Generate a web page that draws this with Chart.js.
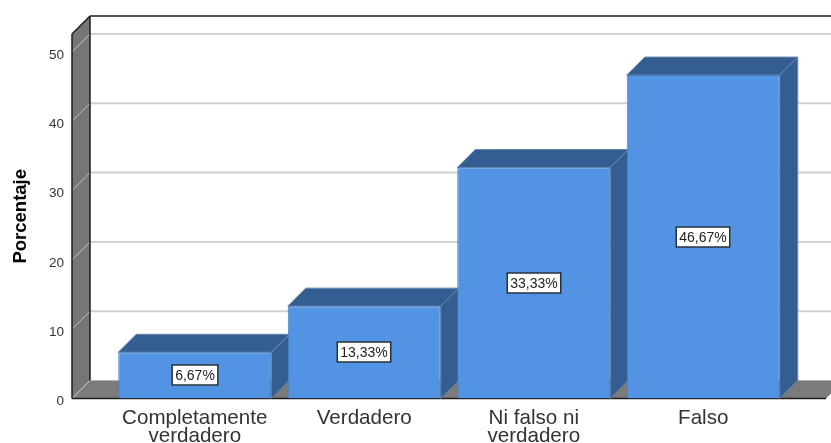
<!DOCTYPE html>
<html><head><meta charset="utf-8">
<script src="https://cdn.jsdelivr.net/npm/chart.js@4"></script>
<style>html,body{margin:0;padding:0;background:#fff;overflow:hidden}canvas{display:block}</style>
</head><body>
<canvas id="c" width="831" height="443"></canvas>
<script>
const categories = [["Completamente","verdadero"],"Verdadero",["Ni falso ni","verdadero"],"Falso"];
const percentages = [6.67, 13.33, 33.33, 46.67];
const axisMax = 52.6;
const axisStep = 10;
const axisTitle = "Porcentaje";

const DEPTH = 18, WALL_LEFT = 38, WALL_RIGHT = 38;
const FONT = '"Liberation Sans", Arial, sans-serif';

function poly(ctx, pts, fill, stroke, lw){
  ctx.beginPath();
  pts.forEach((p,i)=> i?ctx.lineTo(p[0],p[1]):ctx.moveTo(p[0],p[1]));
  ctx.closePath();
  if(fill){ctx.fillStyle=fill;ctx.fill();}
  if(stroke){ctx.strokeStyle=stroke;ctx.lineWidth=lw||1;ctx.stroke();}
}
function line(ctx,x1,y1,x2,y2,c,w){
  ctx.beginPath();ctx.moveTo(x1,y1);ctx.lineTo(x2,y2);ctx.strokeStyle=c;ctx.lineWidth=w;ctx.stroke();
}
const box3d = {
  id:'box3d',
  beforeDatasetsDraw(chart){
    const {ctx,chartArea:a,scales:{y}} = chart;
    const L=a.left-WALL_LEFT, R=a.right+WALL_RIGHT, T=a.top, B=y.getPixelForValue(0), d=DEPTH;
    ctx.save();
    // floor
    poly(ctx,[[L,B],[L+d,B-d],[R+d,B-d],[R,B]],'#7b7b7b');
    line(ctx,L+d,B-d,R+d,B-d,'#b4b4b4',1);
    // back-wall grid lines
    y.ticks.forEach(t=>{
      const py=y.getPixelForValue(t.value);
      if(t.value!==0) line(ctx,L+d,py-d,R+d,py-d,'#d2d2d2',2);
    });
    // left wall
    poly(ctx,[[L,T],[L+d,T-d],[L+d,B-d],[L,B]],'#767676');
    y.ticks.forEach(t=>{
      const py=y.getPixelForValue(t.value);
      line(ctx,L,py,L+d,py-d,'#c4c4c4',1);
    });
    line(ctx,L,T,L+d,T-d,'#1c1c1c',1.5);
    line(ctx,L,T,L,B,'#1c1c1c',1.5);
    line(ctx,L+d,T-d,L+d,B-d,'#1c1c1c',1.5);
    line(ctx,L+d,T-d,R+d,T-d,'#1c1c1c',1.5);
    line(ctx,L,B,R,B,'#1c1c1c',1.5);
    // bar side + top faces
    chart.getDatasetMeta(0).data.forEach(b=>{
      const l=b.x-b.width/2, r=b.x+b.width/2, t=b.y, bt=b.base;
      poly(ctx,[[r,t],[r+d,t-d],[r+d,bt-d],[r,bt]],'#345e92','#6a86aa',1);
      poly(ctx,[[l,t],[l+d,t-d],[r+d,t-d],[r,t]],'#345e92','#6a86aa',1);
    });
    ctx.restore();
  },
  afterDatasetsDraw(chart){
    const {ctx} = chart;
    ctx.save();
    ctx.font='14px '+FONT;
    ctx.textAlign='center';ctx.textBaseline='middle';
    chart.getDatasetMeta(0).data.forEach((b,i)=>{
      const txt=percentages[i].toFixed(2).replace('.',',')+'%';
      const w=ctx.measureText(txt).width+6, h=20;
      const cx=Math.round(b.x), cy=Math.round((b.y+b.base)/2);
      ctx.fillStyle='#fff';ctx.fillRect(cx-w/2,cy-h/2,w,h);
      ctx.strokeStyle='#26303c';ctx.lineWidth=1.5;ctx.strokeRect(cx-w/2,cy-h/2,w,h);
      ctx.fillStyle='#222';ctx.fillText(txt,cx,cy+1);
    });
    ctx.restore();
  }
};

new Chart(document.getElementById('c'),{
  type:'bar',
  data:{labels:categories,datasets:[{
    data:percentages,
    backgroundColor:'#5294e3',
    borderColor:'#4a7db8',
    borderWidth:1,
    barPercentage:0.9027,
    categoryPercentage:1
  }]},
  plugins:[box3d],
  options:{
    responsive:false,animation:false,
    devicePixelRatio:1,
    layout:{padding:{top:34,right:43,bottom:0,left:0}},
    plugins:{legend:{display:false},tooltip:{enabled:false},title:{display:false}},
    scales:{
      x:{
        offset:true,
        grid:{display:false},
        border:{display:false},
        afterFit(s){s.height=44.5;s.paddingLeft=0;s.paddingRight=0;s.paddingTop=0;s.paddingBottom=0;},
        ticks:{autoSkip:false,maxRotation:0,minRotation:0,padding:3,color:'#333',
          font:{family:FONT,size:20.6,lineHeight:0.88}}
      },
      y:{
        min:0,max:axisMax,
        grid:{display:false},
        border:{display:false},
        afterFit(s){s.width=110;s.paddingTop=0;s.paddingBottom=0;s.paddingLeft=0;s.paddingRight=0;},
        title:{display:true,text:axisTitle,color:'#000',padding:{top:10,bottom:0},
          font:{family:FONT,size:18.5,weight:'bold',lineHeight:1.2}},
        ticks:{stepSize:axisStep,includeBounds:false,padding:38,labelOffset:3,color:'#333',
          font:{family:FONT,size:13.5}}
      }
    }
  }
});
</script>
</body></html>
